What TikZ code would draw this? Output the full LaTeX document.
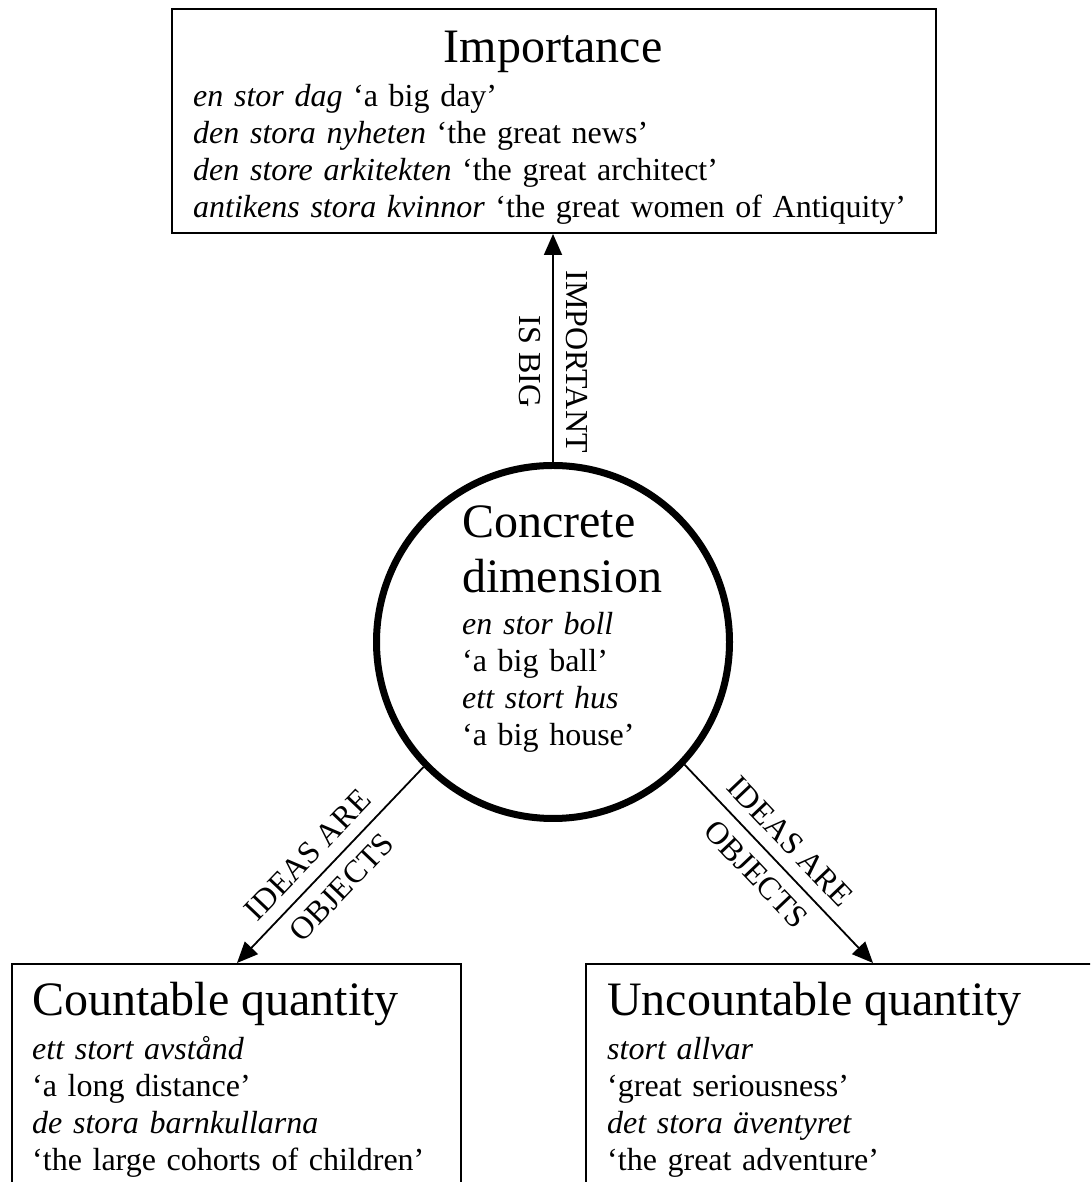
\documentclass[tikz,border=0pt]{standalone}
\usepackage{fontspec}
\setmainfont{Liberation Serif}
\usepackage{tkz-euclide}
\usetikzlibrary{arrows.meta}

\newcommand{\titulo}[2][7pt]{{\spaceskip=0pt\fontsize{48}{55}\selectfont #2\par}\vspace{#1}}
\newcommand{\cuerpo}{\fontsize{32}{37}\selectfont\spaceskip=4.5pt plus 2pt minus 1pt}

\tikzset{
    caja/.style={draw, line width=2pt, inner sep=0pt, anchor=north west},
    texto/.style={inner sep=0pt, anchor=north west, font=\cuerpo},
    flecha/.style={line width=1.8pt, -{Triangle[length=21pt,width=18pt]}},
    etiqueta/.style={font=\fontsize{32}{47}\selectfont, align=center}
}

\begin{document}
\begin{tikzpicture}[x=1pt,y=1pt]
        % Marco del dibujo
        \useasboundingbox (0,0) rectangle (1090,1182);
        \clip (0,0) rectangle (1090,1182);

        % Define puntos O (centro del círculo), A, B, C (esquinas de las cajas)
        \tkzDefPoints{
            553/540/O,
            171/1174/A,
            11/219/B,
            585/219/C%
        }

        % Caja superior
        \node[caja, minimum width=764pt, minimum height=224pt] (imp) at (A) {};
        \node[texto, text width=720pt] (impTexto) at ([xshift=22pt,yshift=-23pt]imp.north west)
            {\centering\titulo{Importance}\raggedright
             \emph{en stor dag} ‘a big day’\\
             \emph{den stora nyheten} ‘the great news’\\
             \emph{den store arkitekten} ‘the great architect’\\
             \emph{antikens stora kvinnor} ‘the great women of Antiquity’};

        % Círculo central
        \node[circle, draw, line width=7pt, minimum size=353pt, inner sep=0pt] (conc) at (O) {};
        \node[texto, text width=230pt] (concTexto) at (462,676)
            {\raggedright\titulo[5pt]{Concrete\\dimension}
             \emph{en stor boll}\\
             ‘a big ball’\\
             \emph{ett stort hus}\\
             ‘a big house’};

        % Cajas inferiores
        \node[caja, minimum width=449pt, minimum height=300pt] (cont) at (B) {};
        \node[texto, text width=410pt] (contTexto) at ([xshift=21pt,yshift=-19pt]cont.north west)
            {\raggedright\titulo{Countable quantity}
             \emph{ett stort avstånd}\\
             ‘a long distance’\\
             \emph{de stora barnkullarna}\\
             ‘the large cohorts of children’};
        \node[caja, minimum width=576pt, minimum height=300pt] (incont) at (C) {};
        \node[texto, text width=520pt] (incontTexto) at ([xshift=22pt,yshift=-19pt]incont.north west)
            {\raggedright\titulo{Uncountable quantity}
             \emph{stort allvar}\\
             ‘great seriousness’\\
             \emph{det stora äventyret}\\
             ‘the great adventure’};

        % Flechas con sus etiquetas
        \draw[flecha] (conc.north) -- (conc.north |- imp.south)
            node[etiqueta, pos=0.44, rotate=-90] (impEtiq) {IMPORTANT\\IS BIG};
        \draw[flecha] (conc.224) -- ([xshift=226pt]cont.north west)
            node[etiqueta, pos=0.53, sloped] (contEtiq) {IDEAS ARE\\OBJECTS};
        \draw[flecha] (conc.-43) -- ([xshift=288pt]incont.north west)
            node[etiqueta, pos=0.47, sloped] (incontEtiq) {IDEAS ARE\\OBJECTS};
\end{tikzpicture}
\end{document}
